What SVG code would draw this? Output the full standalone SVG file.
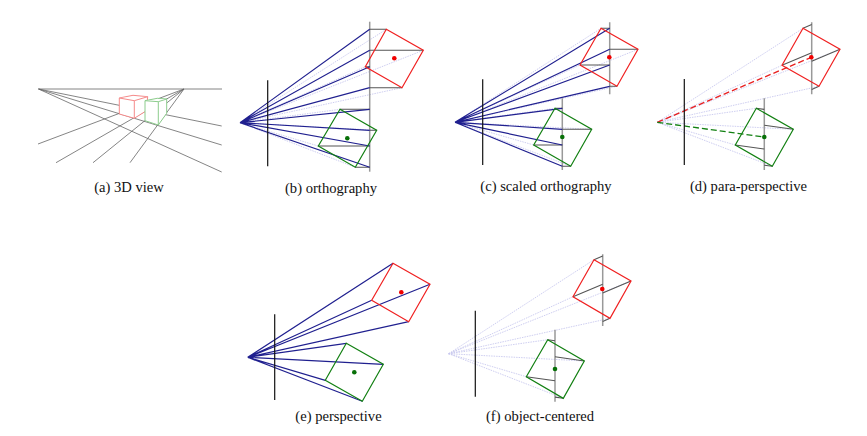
<svg xmlns="http://www.w3.org/2000/svg" width="867" height="436" viewBox="0 0 867 436">
<style>
text{font-family:"Liberation Serif","Times New Roman",serif;font-size:14.6px;fill:#111;text-anchor:middle}
path,polygon,line{fill:none}
.ray{stroke:#20208f;stroke-width:1.2}
.faint{stroke:#c8c8ee;stroke-width:.9;stroke-dasharray:1.5 1}
.plane{stroke:#999;stroke-width:1.5}
.proj{stroke:#555;stroke-width:1.1}
.img{stroke:#111;stroke-width:1.2}
.guide{stroke:#666;stroke-width:.8}
.r{stroke:#f02020;stroke-width:1.2}
.g{stroke:#128012;stroke-width:1.2}
.rl{stroke:#f58a8a;stroke-width:1;fill:#fff}
.gl{stroke:#8ccc8c;stroke-width:1;fill:#fff}
.rdot{fill:#f00000}
.gdot{fill:#087008}
.rd{stroke:#e82020;stroke-width:1.3;stroke-dasharray:6 3}
.gd{stroke:#128012;stroke-width:1.3;stroke-dasharray:6 3}
</style>
<rect width="867" height="436" fill="#fff"/>
<g id="connectors">
<path class="guide" d="M38.5 89H222M38.5 89L221.7 126M38.5 89L221.7 145M38.5 89L221.7 172M184 89L38 144M184 89L56 162.7M184 89L93 162.7M184 89L130 162.7"/>
<path class="faint" d="M240 122.7L386.3 29.3M240 122.7L423.3 50.3M240 122.7L365.3 66.7M240 122.7L402 87.7M240 122.7L340 109.3M240 122.7L376.7 130.3M240 122.7L318.3 146M240 122.7L355.3 167.3"/>
<path class="plane" d="M369.7 21.7V171.7"/>
<path class="proj" d="M369.7 29.3H386.3M369.7 50.3H423.3M369.7 66.7H365.3M369.7 87.7H402M369.7 109.3H340M369.7 130.3H376.7M369.7 146H318.3M369.7 167.3H355.3"/>
<path class="ray" d="M240 122.7L369.7 29.3M240 122.7L369.7 50.3M240 122.7L369.7 66.7M240 122.7L369.7 87.7M240 122.7L369.7 109.3M240 122.7L369.7 130.3M240 122.7L369.7 146M240 122.7L369.7 167.3"/>
<path class="img" d="M267.7 80.3V166.3"/>
<path class="faint" d="M455 122.3L601 28.3M455 122.3L638 49.3M455 122.3L580 65M455 122.3L617 86.3M455 122.3L555 108.3M455 122.3L591.7 129.3M455 122.3L533.7 145M455 122.3L570.7 166.3"/>
<path class="plane" d="M609.7 22.3V94.3M562.3 98.3V170"/>
<path class="proj" d="M609.7 28.3H601M609.7 49.3H638M609.7 65H580M609.7 86.3H617M562.3 108.3H555M562.3 129.3H591.7M562.3 145H533.7M562.3 166.3H570.7"/>
<path class="ray" d="M455 122.3L609.7 28.3M455 122.3L609.7 49.3M455 122.3L609.7 65M455 122.3L609.7 86.3M455 122.3L562.3 108.3M455 122.3L562.3 129.3M455 122.3L562.3 145M455 122.3L562.3 166.3"/>
<path class="img" d="M482.7 79.3V165"/>
<path class="faint" d="M657.3 122.3L803 28.3M657.3 122.3L840 49.3M657.3 122.3L782 65.3M657.3 122.3L819 86.3M657.3 122.3L756.3 108.3M657.3 122.3L793.3 129.3M657.3 122.3L735.3 145M657.3 122.3L772.3 166.3"/>
<path class="plane" d="M811.7 22.3V94.3M764.3 98.3V170"/>
<path class="proj" d="M811.7 24.6L803 28.3M811.7 61.2L840 49.3M811.7 52.8L782 65.3M811.7 89.4L819 86.3M764.3 109.4L756.3 108.3M764.3 125.3L793.3 129.3M764.3 149L735.3 145M764.3 165.2L772.3 166.3"/>
<path class="rd" d="M657.3 122.3L811.3 57.3"/>
<path class="gd" d="M657.3 122.3L764.3 137"/>
<path class="img" d="M684.3 79V165"/>
<path class="ray" d="M247.7 357.3L393 263.3M247.7 357.3L430 284.3M247.7 357.3L371.7 300.3M247.7 357.3L408.7 321.7M247.7 357.3L346.3 343.3M247.7 357.3L383.3 364.3M247.7 357.3L325.3 380.3M247.7 357.3L362.3 401.3"/>
<path class="img" d="M274.7 314.3V400"/>
<path class="faint" d="M448.7 353.7L594 259.7M448.7 353.7L631 281M448.7 353.7L573 296.7M448.7 353.7L610 318.3M448.7 353.7L547.7 339.7M448.7 353.7L584.3 361M448.7 353.7L526.3 376.7M448.7 353.7L563.3 398.3"/>
<path class="plane" d="M602.7 254.3V326M555 329.7V401.7"/>
<path class="proj" d="M602.7 256L594 259.7M602.7 292.9L631 281M602.7 284.2L573 296.7M602.7 321.4L610 318.3M555 340.8L547.7 339.7M555 356.8L584.3 361M555 380.8L526.3 376.7M555 397.1L563.3 398.3"/>
<path class="img" d="M475.3 310.7V396.7"/>
</g>
<g id="a-red-cube"><path class="rl" d="M119.3 98L133 95.3L147.7 96.7L146 111L134.3 118.3L119.3 114Z"/><path class="rl" d="M119.3 98L134.3 100.7L147.7 96.7M134.3 100.7V118.3"/></g>
<g id="a-green-cube"><path class="gl" d="M145 100.7L157.3 98.3L166.7 99V113.3L158.3 125L145 120.7Z"/><path class="gl" d="M145 100.7L158.3 101.7L166.7 99M158.3 101.7V125"/></g>
<g id="b-red"><polygon class="r" points="386.3,29.3 423.3,50.3 402,87.7 365.3,66.7"/><circle class="rdot" cx="394.3" cy="58.3" r="2.3"/></g>
<g id="b-green"><polygon class="g" points="340,109.3 376.7,130.3 355.3,167.3 318.3,146"/><circle class="gdot" cx="347.3" cy="138.3" r="2.3"/></g>
<g id="c-red"><polygon class="r" points="601,28.3 638,49.3 617,86.3 580,65"/><circle class="rdot" cx="609.3" cy="57.3" r="2.3"/></g>
<g id="c-green"><polygon class="g" points="555,108.3 591.7,129.3 570.7,166.3 533.7,145"/><circle class="gdot" cx="562.3" cy="137" r="2.3"/></g>
<g id="d-red"><polygon class="r" points="803,28.3 840,49.3 819,86.3 782,65.3"/><circle class="rdot" cx="811.3" cy="57.3" r="2.3"/></g>
<g id="d-green"><polygon class="g" points="756.3,108.3 793.3,129.3 772.3,166.3 735.3,145"/><circle class="gdot" cx="764.3" cy="137" r="2.3"/></g>
<g id="e-red"><polygon class="r" points="393,263.3 430,284.3 408.7,321.7 371.7,300.3"/><circle class="rdot" cx="401.3" cy="292.3" r="2.3"/></g>
<g id="e-green"><polygon class="g" points="346.3,343.3 383.3,364.3 362.3,401.3 325.3,380.3"/><circle class="gdot" cx="354.3" cy="372.3" r="2.3"/></g>
<g id="f-red"><polygon class="r" points="594,259.7 631,281 610,318.3 573,296.7"/><circle class="rdot" cx="602.3" cy="289" r="2.3"/></g>
<g id="f-green"><polygon class="g" points="547.7,339.7 584.3,361 563.3,398.3 526.3,376.7"/><circle class="gdot" cx="555" cy="369" r="2.3"/></g>
<g id="labels">
<text x="129" y="192">(a) 3D view</text>
<text x="331" y="193">(b) orthography</text>
<text x="546" y="191">(c) scaled orthography</text>
<text x="748.5" y="191">(d) para-perspective</text>
<text x="338.5" y="421">(e) perspective</text>
<text x="540" y="421">(f) object-centered</text>
</g>
</svg>
